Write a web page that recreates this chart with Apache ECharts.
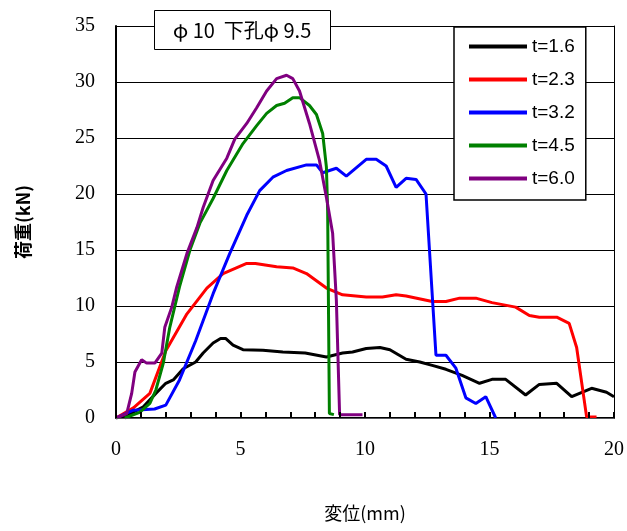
<!DOCTYPE html>
<html>
<head>
<meta charset="utf-8">
<script src="https://cdn.jsdelivr.net/npm/echarts@6/dist/echarts.min.js"></script>
<style>
  html, body { margin: 0; padding: 0; background: #fff; }
  #chart { width: 627px; height: 531px; }
</style>
</head>
<body>
<div id="chart"></div>
<script>
// 系列名
const seriesNames = ["t=1.6", "t=2.3", "t=3.2", "t=4.5", "t=6.0"];
const seriesColors = ["#000000", "#ff0000", "#0000ff", "#008000", "#800080"];

// 変位(mm), 荷重(kN)
const t16 = [[0,0],[0.5,0.3],[1.1,1.0],[1.6,2.2],[2.0,3.1],[2.3,3.4],[2.7,4.4],[3.2,5.0],[3.5,5.8],[3.9,6.7],[4.2,7.1],[4.4,7.1],[4.7,6.5],[5.1,6.1],[5.9,6.05],[6.7,5.9],[7.6,5.8],[8.45,5.45],[9.1,5.8],[9.5,5.9],[10.05,6.2],[10.6,6.3],[11.0,6.1],[11.65,5.25],[12.2,5.0],[12.7,4.7],[13.25,4.35],[13.9,3.8],[14.6,3.1],[15.1,3.45],[15.65,3.45],[16.45,2.05],[17,3.0],[17.7,3.1],[18.3,1.9],[19.1,2.65],[19.7,2.3],[20,1.9]];
const t23 = [[0,0],[0.7,0.9],[1.36,2.2],[2.0,6.0],[2.85,9.3],[3.65,11.6],[4.3,12.9],[5.25,13.8],[5.6,13.8],[6.45,13.5],[7.1,13.4],[7.65,12.9],[8.45,11.6],[9.1,11.0],[10.05,10.8],[10.7,10.8],[11.25,11.0],[11.65,10.9],[12.7,10.4],[13.25,10.4],[13.8,10.7],[14.45,10.7],[15.1,10.3],[16.05,9.9],[16.6,9.15],[17,9.0],[17.7,9.0],[18.2,8.45],[18.5,6.3],[18.9,0.1],[19.3,0.1]];
const t32 = [[0,0],[0.7,0.7],[1.55,0.8],[2.0,1.15],[2.55,3.4],[3.2,6.9],[3.9,11.1],[4.57,14.7],[5.25,18.1],[5.77,20.3],[6.3,21.5],[6.85,22.1],[7.65,22.6],[8.05,22.6],[8.3,21.9],[8.85,22.3],[9.25,21.6],[10.05,23.1],[10.45,23.1],[10.85,22.5],[11.25,20.6],[11.65,21.4],[12.05,21.3],[12.45,20.0],[12.85,5.6],[13.25,5.6],[13.65,4.45],[14.05,1.8],[14.45,1.3],[14.85,1.9],[15.25,0]];
const t45 = [[0.35,0],[0.95,0.5],[1.36,1.3],[1.6,2.5],[1.9,4.9],[2.16,8.1],[2.55,11.7],[2.97,15.0],[3.37,17.4],[3.9,19.6],[4.45,22.1],[5.1,24.5],[5.65,26.1],[6.05,27.2],[6.45,27.9],[6.77,28.1],[7.1,28.6],[7.37,28.6],[7.77,27.9],[8.05,27.1],[8.3,25.4],[8.45,22.4],[8.5,18.5],[8.57,0.4],[8.75,0.3]];
const t60 = [[0,0],[0.43,0.4],[0.63,2.2],[0.76,4.1],[1.03,5.2],[1.23,4.9],[1.56,4.9],[1.84,5.8],[1.96,8.1],[2.24,9.9],[2.44,11.7],[2.85,14.7],[3.25,17.0],[3.5,18.8],[3.9,21.2],[4.45,23.2],[4.77,24.9],[5.25,26.3],[5.65,27.7],[6.05,29.2],[6.45,30.3],[6.85,30.6],[7.1,30.3],[7.37,29.2],[7.77,26.3],[8.17,23.0],[8.45,19.7],[8.7,16.5],[8.85,10.5],[8.98,0.3],[9.9,0.3]];
const allData = [t16, t23, t32, t45, t60];

const chart = echarts.init(document.getElementById("chart"));
const serif = "'Liberation Serif', 'Times New Roman', serif";
const sans = "'Liberation Sans', 'Noto Sans CJK JP', sans-serif";
const cjk = "'Noto Sans CJK JP', sans-serif";

// 枠線用の補助軸（上・右）
const frameX = {
  type: "value", min: 0, max: 20, position: "top",
  axisLine: { show: true, onZero: false, lineStyle: { color: "#000", width: 1 } },
  axisTick: { show: false }, axisLabel: { show: false }, splitLine: { show: false },
};
const frameY = {
  type: "value", min: 0, max: 35, position: "right",
  axisLine: { show: true, onZero: false, lineStyle: { color: "#000", width: 1 } },
  axisTick: { show: false }, axisLabel: { show: false }, splitLine: { show: false },
};
// 目盛り(1mm毎)用の補助軸
const tickX = {
  type: "value", min: 0, max: 20, interval: 1, position: "bottom", z: 10,
  axisTick: { show: true, inside: true, length: 6, lineStyle: { color: "#000", width: 2 } },
  axisLabel: { show: false }, splitLine: { show: false },
};

chart.setOption({
  animation: false,
  title: {
    text: "\u03c6 10  下孔\u03c6 9.5",
    left: 154,
    top: 10,
    padding: [10, 19, 10, 19],
    borderColor: "#000",
    borderWidth: 1,
    backgroundColor: "#fff",
    textStyle: { fontFamily: cjk, fontSize: 20, fontWeight: "normal", color: "#000" },
  },
  legend: {
    orient: "vertical",
    left: 454,
    top: 27,
    padding: [9, 11, 11, 15],
    icon: "rect",
    itemWidth: 58,
    itemHeight: 4,
    itemGap: 12,
    borderColor: "#000",
    borderWidth: 1.5,
    borderRadius: 0,
    backgroundColor: "#fff",
    textStyle: { fontFamily: sans, fontSize: 19, color: "#000", lineHeight: 21 },
    data: seriesNames,
  },
  grid: {
    left: 116,
    right: 12,
    top: 26,
    bottom: 113,
  },
  xAxis: [
    {
      type: "value",
      min: 0,
      max: 20,
      interval: 5,
      name: "変位(mm)",
      nameLocation: "middle",
      nameGap: 86,
      nameTextStyle: { fontFamily: cjk, fontSize: 18, color: "#000" },
      axisLine: { show: true, onZero: false, lineStyle: { color: "#000", width: 2 } },
      axisTick: { show: false },
      splitLine: { show: false },
      axisLabel: { margin: 22, fontFamily: serif, fontSize: 20, color: "#000" },
    },
    frameX,
    tickX,
  ],
  yAxis: [
    {
      type: "value",
      min: 0,
      max: 35,
      interval: 5,
      name: "荷重(kN)",
      nameLocation: "middle",
      nameGap: 84,
      nameRotate: 90,
      nameTextStyle: { fontFamily: cjk, fontSize: 18, fontWeight: "bold", color: "#000" },
      axisLine: { show: true, onZero: false, lineStyle: { color: "#000", width: 2 } },
      axisTick: { show: false },
      splitLine: { show: true, lineStyle: { color: "#000", width: 1 } },
      axisLabel: { margin: 21, fontFamily: serif, fontSize: 20, color: "#000" },
    },
    frameY,
  ],
  series: seriesNames.map((name, i) => ({
    name: name,
    type: "line",
    xAxisIndex: 0,
    yAxisIndex: 0,
    data: allData[i],
    symbol: "none",
    color: seriesColors[i],
    lineStyle: { width: 3, color: seriesColors[i] },
    z: 2 + i,
  })),
});
</script>
</body>
</html>
